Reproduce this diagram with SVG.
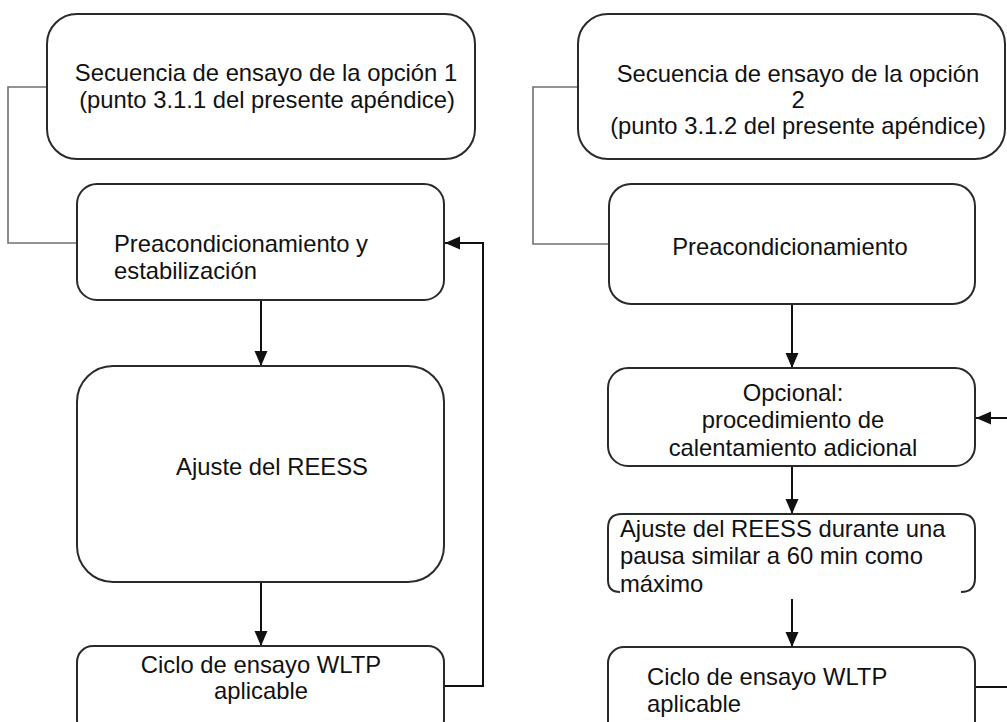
<svg xmlns="http://www.w3.org/2000/svg" width="1007" height="722" viewBox="0 0 1007 722">
<style>
.box{fill:#fff;stroke:#2a2a2a;stroke-width:2}
.t{font-family:"Liberation Sans",Arial,sans-serif;font-size:23.8px;fill:#111}
.m{text-anchor:middle}
.con{fill:none;stroke:#111;stroke-width:2}
.gray{fill:none;stroke:#707070;stroke-width:1.6}
</style>
<defs>
<marker id="ah" markerUnits="userSpaceOnUse" markerWidth="15" markerHeight="15" viewBox="0 0 15 15" refX="15" refY="7.5" orient="auto">
<path d="M0,1 L15,7.5 L0,14 Z" fill="#111"/>
</marker>
</defs>
<rect width="1007" height="722" fill="#fff"/>
<g id="connectors">
<polyline class="gray" points="47,87 8,87 8,243 77,243"/>
<polyline class="gray" points="578,87 533,87 533,244 609,244"/>
<line class="con" x1="261" y1="300" x2="261" y2="366" marker-end="url(#ah)"/>
<line class="con" x1="261" y1="582" x2="261" y2="646" marker-end="url(#ah)"/>
<polyline class="con" points="444,686 483,686 483,243 445,243" marker-end="url(#ah)"/>
<line class="con" x1="792" y1="304" x2="792" y2="368" marker-end="url(#ah)"/>
<line class="con" x1="1007" y1="418" x2="976" y2="418" marker-end="url(#ah)"/>
<line class="con" x1="792" y1="466" x2="792" y2="514" marker-end="url(#ah)"/>
<line class="con" x1="792" y1="599" x2="792" y2="647" marker-end="url(#ah)"/>
<line class="con" x1="975" y1="687" x2="1007" y2="687"/>
</g>
<g id="n1">
<rect class="box" x="47" y="14" width="428" height="145" rx="30"/>
<text class="t m" x="266" y="81">Secuencia de ensayo de la opción 1</text>
<text class="t m" x="267" y="108">(punto 3.1.1 del presente apéndice)</text>
</g>
<g id="n2">
<rect class="box" x="77" y="184" width="367" height="116" rx="20"/>
<text class="t" x="114" y="252">Preacondicionamiento y</text>
<text class="t" x="114" y="279">estabilización</text>
</g>
<g id="n3">
<rect class="box" x="77" y="366" width="367" height="216" rx="36"/>
<text class="t m" x="272" y="475">Ajuste del REESS</text>
</g>
<g id="n4">
<rect class="box" x="77" y="646" width="367" height="90" rx="16"/>
<text class="t m" x="261" y="673">Ciclo de ensayo WLTP</text>
<text class="t m" x="261" y="699">aplicable</text>
</g>
<g id="n5">
<rect class="box" x="578" y="14" width="427" height="145" rx="30"/>
<text class="t m" x="798" y="82">Secuencia de ensayo de la opción</text>
<text class="t m" x="798" y="108">2</text>
<text class="t m" x="798" y="134">(punto 3.1.2 del presente apéndice)</text>
</g>
<g id="n6">
<rect class="box" x="609" y="184" width="366" height="120" rx="22"/>
<text class="t m" x="790" y="255">Preacondicionamiento</text>
</g>
<g id="n7">
<rect class="box" x="608" y="368" width="367" height="98" rx="20"/>
<text class="t m" x="793" y="401">Opcional:</text>
<text class="t m" x="793" y="428">procedimiento de</text>
<text class="t m" x="793" y="456">calentamiento adicional</text>
</g>
<g id="n8">
<path class="box" style="fill:none" d="M620,592 Q608,592 608,580 L608,528 Q608,514 622,514 L961,514 Q975,514 975,528 L975,578 Q975,592 961,592"/>
<text class="t" x="620" y="537">Ajuste del REESS durante una</text>
<text class="t" x="620" y="564">pausa similar a 60 min como</text>
<text class="t" x="620" y="592">máximo</text>
</g>
<g id="n9">
<rect class="box" x="608" y="647" width="367" height="90" rx="16"/>
<text class="t" x="647" y="685">Ciclo de ensayo WLTP</text>
<text class="t" x="647" y="712">aplicable</text>
</g>
</svg>
